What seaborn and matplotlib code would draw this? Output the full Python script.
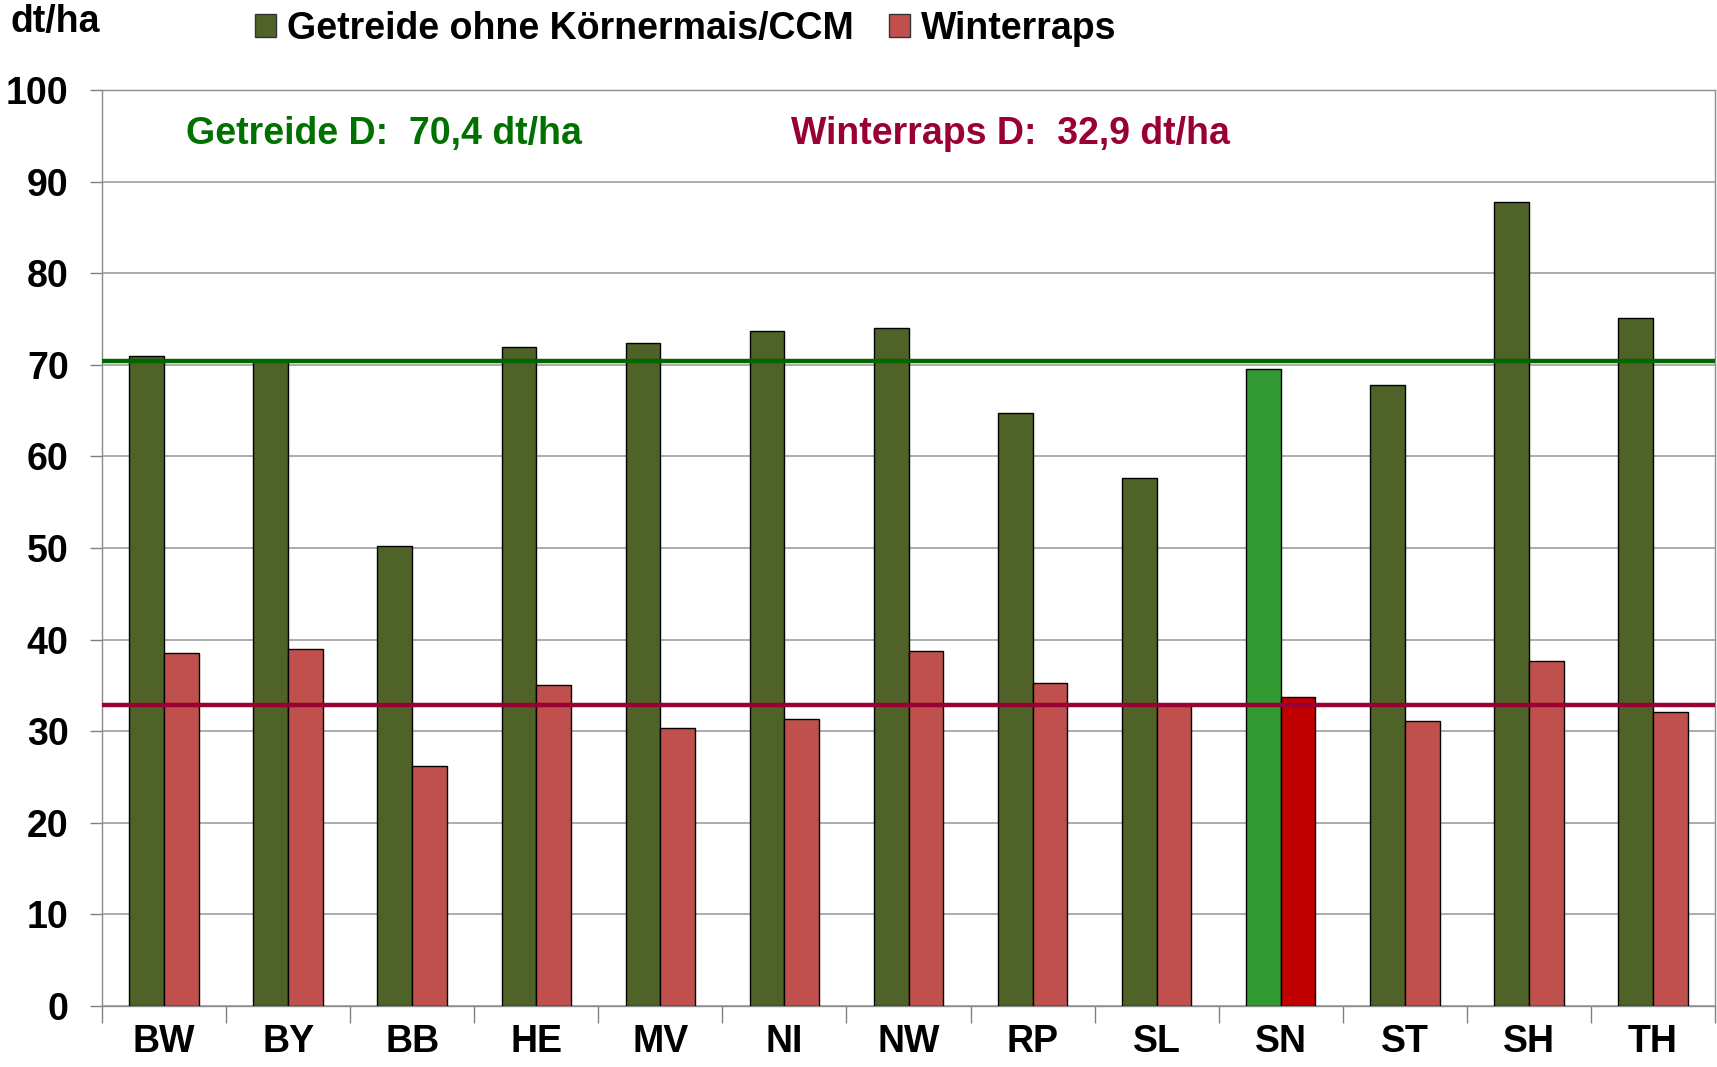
import matplotlib
matplotlib.use("Agg")
import matplotlib.pyplot as plt
import seaborn as sns
import pandas as pd

# ---- data ----
states = ["BW", "BY", "BB", "HE", "MV", "NI", "NW", "RP", "SL", "SN", "ST", "SH", "TH"]
getreide = [71.0, 70.5, 50.2, 71.9, 72.4, 73.7, 74.0, 64.7, 57.6, 69.5, 67.8, 87.8, 75.1]
winterraps = [38.5, 39.0, 26.2, 35.0, 30.3, 31.3, 38.8, 35.3, 33.0, 33.7, 31.1, 37.7, 32.1]
series_names = ["Getreide ohne Körnermais/CCM", "Winterraps"]
mean_getreide = 70.4
mean_raps = 32.9
highlight = "SN"
y_ticks = [0, 10, 20, 30, 40, 50, 60, 70, 80, 90, 100]

df = pd.DataFrame({
    "Land": states * 2,
    "Serie": [series_names[0]] * len(states) + [series_names[1]] * len(states),
    "Wert": getreide + winterraps,
})

sns.set_theme(style="white")
plt.rcParams["font.family"] = ["Liberation Sans", "DejaVu Sans"]
plt.rcParams["font.weight"] = "bold"
plt.rcParams["text.color"] = "black"
plt.rcParams["xtick.labelcolor"] = "black"
plt.rcParams["ytick.labelcolor"] = "black"

col_g = "#4F6228"
col_r = "#C0504D"
col_g_hi = "#339933"
col_r_hi = "#C00000"

FS = 27

fig = plt.figure(figsize=(17.17, 10.67), dpi=100)
ax = fig.add_axes([102 / 1717, 1 - 1006 / 1067, 1613 / 1717, 916 / 1067])

sns.barplot(data=df, x="Land", y="Wert", hue="Serie", order=states,
            hue_order=series_names, palette=[col_g, col_r], width=0.56,
            edgecolor="black", linewidth=1.0, saturation=1, ax=ax, zorder=3)

# highlight SN
hi_idx = states.index(highlight)
for p in ax.patches:
    cx = p.get_x() + p.get_width() / 2
    if abs(cx - hi_idx) < 0.45 and p.get_height() > 0:
        p.set_facecolor(col_g_hi if cx < hi_idx else col_r_hi)

handles, labels = ax.get_legend_handles_labels()
if ax.get_legend() is not None:
    ax.get_legend().remove()
for h in handles:
    h.set_edgecolor("#333333")
    h.set_linewidth(1.0)

ax.set_ylim(0, 100)
ax.set_xlim(-0.5, len(states) - 0.5)
ax.set_yticks(y_ticks)
ax.set_yticklabels([str(t) for t in y_ticks], fontsize=FS, fontweight="bold", color="black")
ax.set_xticks(range(len(states)))
ax.set_xticklabels(states, fontsize=FS, fontweight="bold", color="black")
ax.set_xticks([i + 0.5 for i in range(-1, len(states))], minor=True)
ax.tick_params(axis="x", which="major", length=0, pad=13)
ax.tick_params(axis="x", which="minor", length=12, width=1, color="#808080", direction="out")
ax.tick_params(axis="y", which="major", length=9, width=1, color="#808080", direction="out", pad=15)
ax.tick_params(axis="y", left=True)
ax.tick_params(axis="x", bottom=True, which="minor")
ax.set_xlabel("")
ax.set_ylabel("")

ax.yaxis.grid(True, color="#a6a6a6", linewidth=1.3, zorder=0)
ax.set_axisbelow(True)
for s in ["left", "right", "bottom", "top"]:
    ax.spines[s].set_visible(True)
    ax.spines[s].set_color("#8c8c8c")
    ax.spines[s].set_linewidth(1.0)

ax.axhline(mean_getreide, color="#006600", linewidth=3.2, zorder=5)
ax.axhline(mean_raps, color="#990033", linewidth=3.2, zorder=5)

ax.text(0.052, 0.952, "Getreide D:  70,4 dt/ha", transform=ax.transAxes,
        color="#007000", fontsize=FS, fontweight="bold", va="center", ha="left")
ax.text(0.427, 0.952, "Winterraps D:  32,9 dt/ha", transform=ax.transAxes,
        color="#990033", fontsize=FS, fontweight="bold", va="center", ha="left")

fig.text(11 / 1717, 1 - 22 / 1067, "dt/ha", fontsize=FS, fontweight="bold",
         va="center", ha="left", color="black")

leg = fig.legend(handles, labels, loc="upper left", bbox_to_anchor=(255 / 1717, 0.99),
                 ncol=2, frameon=False, handlelength=0.55, handleheight=0.55,
                 handletextpad=0.3, columnspacing=0.95, borderpad=0, borderaxespad=0,
                 prop={"weight": "bold", "size": FS})
for t in leg.get_texts():
    t.set_color("black")

fig.savefig("out.png", dpi=100)
